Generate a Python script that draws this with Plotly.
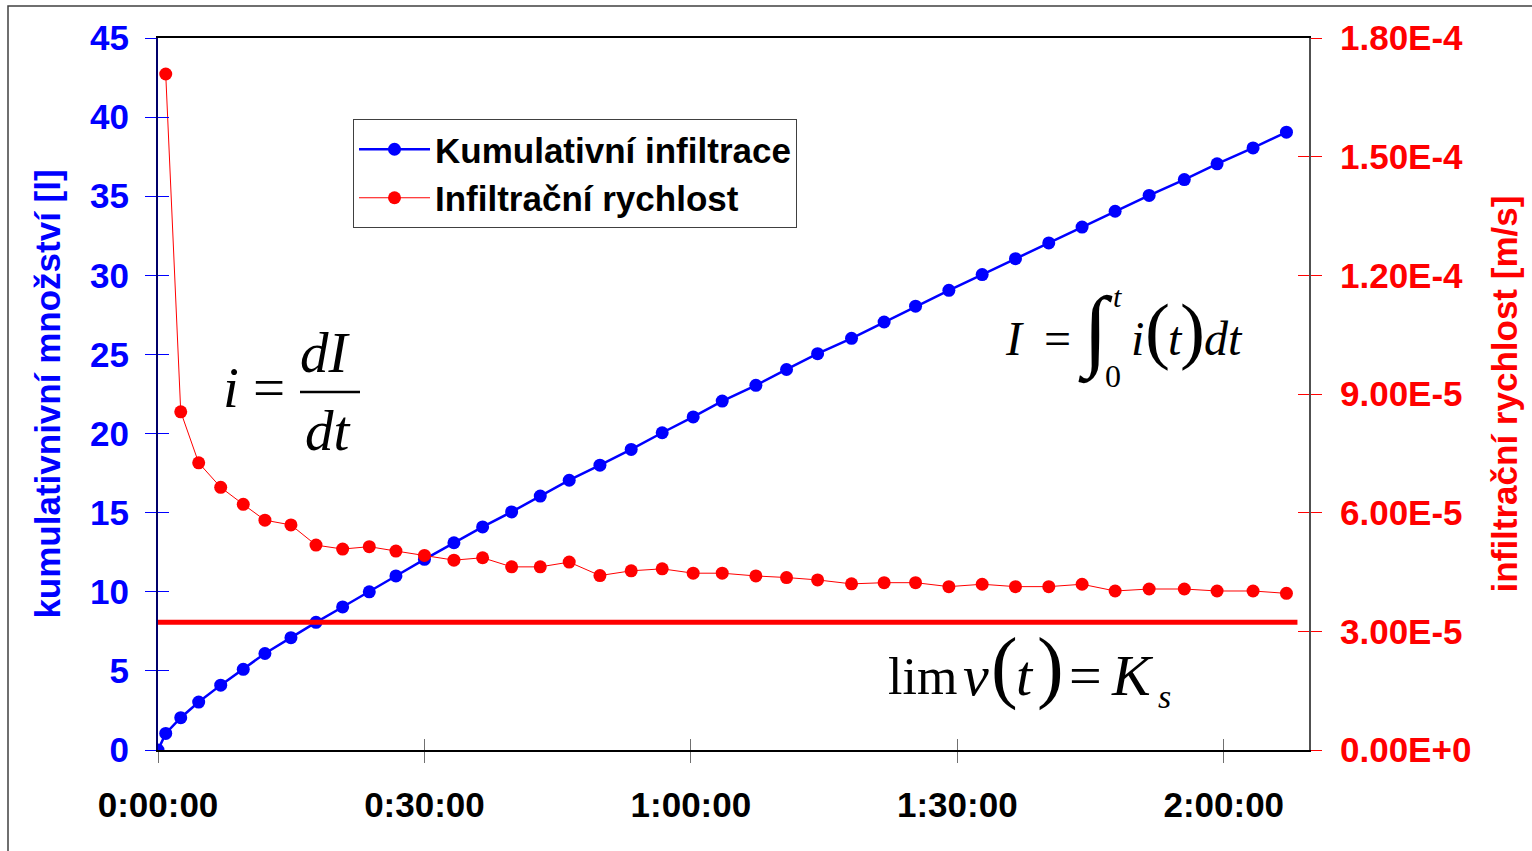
import plotly.graph_objects as go

# ---------------- data ----------------
time_min = [0, 0.87, 2.56, 4.58, 7.06, 9.6, 12.04, 14.97, 17.79, 20.79, 23.79, 26.79,
            30.0, 33.32, 36.55, 39.82, 43.04, 46.3, 49.76, 53.28, 56.77, 60.26, 63.53,
            67.32, 70.77, 74.27, 78.09, 81.76, 85.3, 89.05, 92.8, 96.55, 100.3, 104.05,
            107.77, 111.6, 115.56, 119.25, 123.3, 127.06]
cumulative_l = [0, 1.05, 2.04, 3.03, 4.1, 5.1, 6.1, 7.1, 8.07, 9.04, 10, 11, 12.05, 13.1,
                14.1, 15.05, 16.05, 17.05, 18.0, 19.0, 20.05, 21.05, 22.05, 23.05, 24.05,
                25.05, 26.02, 27.05, 28.05, 29.05, 30.05, 31.05, 32.05, 33.05, 34.05, 35.05,
                36.05, 37.05, 38.05, 39.05]
rate_time_min = time_min[1:]
rate_ms = [1.709e-4, 8.55e-5, 7.26e-5, 6.64e-5, 6.21e-5, 5.81e-5, 5.69e-5, 5.18e-5,
           5.08e-5, 5.14e-5, 5.03e-5, 4.92e-5, 4.80e-5, 4.86e-5, 4.63e-5, 4.63e-5,
           4.75e-5, 4.41e-5, 4.53e-5, 4.58e-5, 4.47e-5, 4.47e-5, 4.40e-5, 4.36e-5,
           4.30e-5, 4.20e-5, 4.23e-5, 4.23e-5, 4.13e-5, 4.19e-5, 4.13e-5, 4.13e-5,
           4.19e-5, 4.02e-5, 4.07e-5, 4.07e-5, 4.02e-5, 4.02e-5, 3.96e-5]
ks_x = [0, 128.3]
ks_value = [3.23e-5, 3.23e-5]

x_tickvals = [0, 30, 60, 90, 120]
x_ticktext = ["0:00:00", "0:30:00", "1:00:00", "1:30:00", "2:00:00"]
y_tickvals = [0, 5, 10, 15, 20, 25, 30, 35, 40, 45]
y2_tickvals = [0, 3e-5, 6e-5, 9e-5, 1.2e-4, 1.5e-4, 1.8e-4]
y2_ticktext = ["0.00E+0", "3.00E-5", "6.00E-5", "9.00E-5", "1.20E-4", "1.50E-4", "1.80E-4"]

X_RANGE = [0, 129.6]
Y_RANGE = [0, 45]
Y2_RANGE = [0, 1.8e-4]

# ---------------- layout geometry ----------------
W, H = 1532, 851
L, R, T, B = 158, 1309, 38, 750


def px(x):
    return (x - L) / (R - L)


def py(y):
    return (B - y) / (B - T)


SANS = "Arial, Liberation Sans, sans-serif"
SERIF = "Times New Roman, Liberation Serif, serif"
FS = 35

fig = go.Figure()
fig.add_trace(go.Scatter(
    x=time_min, y=cumulative_l, name="Kumulativní infiltrace", mode="lines+markers",
    line=dict(color="#0000FF", width=2.5), marker=dict(color="#0000FF", size=13),
    xaxis="x", yaxis="y"))
fig.add_trace(go.Scatter(
    x=rate_time_min, y=rate_ms, name="Infiltrační rychlost", mode="lines+markers",
    line=dict(color="#FF0000", width=1), marker=dict(color="#FF0000", size=13),
    xaxis="x", yaxis="y2"))
fig.add_trace(go.Scatter(
    x=ks_x, y=ks_value, mode="lines", showlegend=False, hoverinfo="skip",
    line=dict(color="#FF0000", width=5), xaxis="x", yaxis="y2"))
# invisible traces carrying the overlay axes (inner half of the crossing ticks)
fig.add_trace(go.Scatter(x=[None], y=[None], showlegend=False, xaxis="x3", yaxis="y3"))
fig.add_trace(go.Scatter(x=[None], y=[None], showlegend=False, xaxis="x3", yaxis="y4"))

fig.update_layout(
    width=W, height=H, autosize=False,
    margin=dict(l=L, r=W - R, t=T, b=H - B, pad=0),
    paper_bgcolor="white", plot_bgcolor="white",
    font=dict(family=SANS, size=FS, color="black"),
    xaxis=dict(range=X_RANGE, tickvals=x_tickvals, ticktext=x_ticktext,
               showgrid=False, zeroline=False, showline=True, linecolor="black",
               linewidth=2, mirror=True, ticks="outside", ticklen=11, tickwidth=1,
               tickcolor="#707070", ticklabelstandoff=12,
               tickfont=dict(family=SANS, size=FS, color="black", weight="bold")),
    xaxis3=dict(range=X_RANGE, overlaying="x", tickvals=x_tickvals, showticklabels=False,
                showgrid=False, zeroline=False, showline=False, ticks="inside",
                ticklen=11, tickwidth=1, tickcolor="#707070"),
    yaxis=dict(range=Y_RANGE, tickvals=y_tickvals, showgrid=False, zeroline=False,
               showline=True, linecolor="#00006A", linewidth=2, ticks="outside",
               ticklen=11, tickwidth=1, tickcolor="#0000FF", ticklabelstandoff=9,
               tickfont=dict(family=SANS, size=FS, color="#0000FF", weight="bold"),
               title=dict(text="kumulativnivní množství [l]", standoff=19,
                          font=dict(family=SANS, size=FS, color="#0000FF", weight="bold"))),
    yaxis3=dict(range=Y_RANGE, overlaying="y", side="left", tickvals=y_tickvals,
                showticklabels=False, showgrid=False, zeroline=False, showline=False,
                ticks="inside", ticklen=11, tickwidth=1, tickcolor="#0000FF"),
    yaxis2=dict(range=Y2_RANGE, overlaying="y", side="right", tickvals=y2_tickvals,
                ticktext=y2_ticktext, showgrid=False, zeroline=False, showline=True,
                linecolor="#505050", linewidth=2, ticks="outside", ticklen=11,
                tickwidth=1, tickcolor="#FF0000", ticklabelstandoff=11,
                tickfont=dict(family=SANS, size=FS, color="#FF0000", weight="bold"),
                title=dict(text="infiltrační rychlost [m/s]", standoff=22,
                           font=dict(family=SANS, size=FS, color="#FF0000", weight="bold"))),
    yaxis4=dict(range=Y2_RANGE, overlaying="y", side="right", tickvals=y2_tickvals,
                showticklabels=False, showgrid=False, zeroline=False, showline=False,
                ticks="inside", ticklen=11, tickwidth=1, tickcolor="#FF0000"),
    legend=dict(x=px(353), y=py(119), xanchor="left", yanchor="top",
                bgcolor="white", bordercolor="#404040", borderwidth=1, itemwidth=71,
                font=dict(family=SANS, size=FS, color="black", weight="bold")),
    showlegend=True,
)

# outer frame
fig.add_shape(type="rect", xref="paper", yref="paper", x0=px(8), y0=py(H + 60),
              x1=px(W + 60), y1=py(6), line=dict(color="#404040", width=1.5),
              fillcolor="rgba(0,0,0,0)", layer="above")


def txt(s, x, yc, size, italic=True):
    fig.add_annotation(text=s, xref="paper", yref="paper", x=px(x), y=py(yc),
                       xanchor="center", yanchor="middle", showarrow=False, borderpad=0,
                       font=dict(family=SERIF, size=size, color="black",
                                 style="italic" if italic else "normal"))


# i = dI/dt
S1 = 57
txt("i", 231, 407 - 0.34 * S1, S1)
txt("=", 269, 407 - 0.34 * S1, S1, italic=False)
txt("dI", 325, 372 - 0.34 * S1, S1)
txt("dt", 328, 450 - 0.34 * S1, S1)
fig.add_shape(type="line", xref="paper", yref="paper", x0=px(300), x1=px(360),
              y0=py(392), y1=py(392), line=dict(color="black", width=2.5))

# I = int_0^t i(t) dt
S2 = 48
txt("I", 1014, 355 - 0.34 * S2, S2)
txt("=", 1057, 355 - 0.34 * S2, S2, italic=False)
txt("∫", 1095, 331, 90, italic=False)
txt("t", 1117, 307 - 0.34 * 30, 30)
txt("0", 1113, 387 - 0.34 * 32, 32, italic=False)
txt("i", 1137, 355 - 0.34 * S2, S2)
txt("(", 1157, 329, 75, italic=False)
txt("t", 1175, 355 - 0.34 * S2, S2)
txt(")", 1192, 329, 75, italic=False)
txt("dt", 1223, 355 - 0.34 * S2, S2)

# lim v(t) = K_s
S3 = 58
txt("lim", 922, 695 - 0.34 * 54, 52, italic=False)
txt("v", 976, 695 - 0.34 * S3, S3)
txt("(", 1004, 666, 80, italic=False)
txt("t", 1025, 695 - 0.34 * S3, S3)
txt(")", 1050, 666, 80, italic=False)
txt("=", 1085, 695 - 0.34 * S3, S3, italic=False)
txt("K", 1132, 695 - 0.34 * S3, S3)
txt("s", 1164, 708 - 0.34 * 34, 34)

fig.write_html("out.html")
